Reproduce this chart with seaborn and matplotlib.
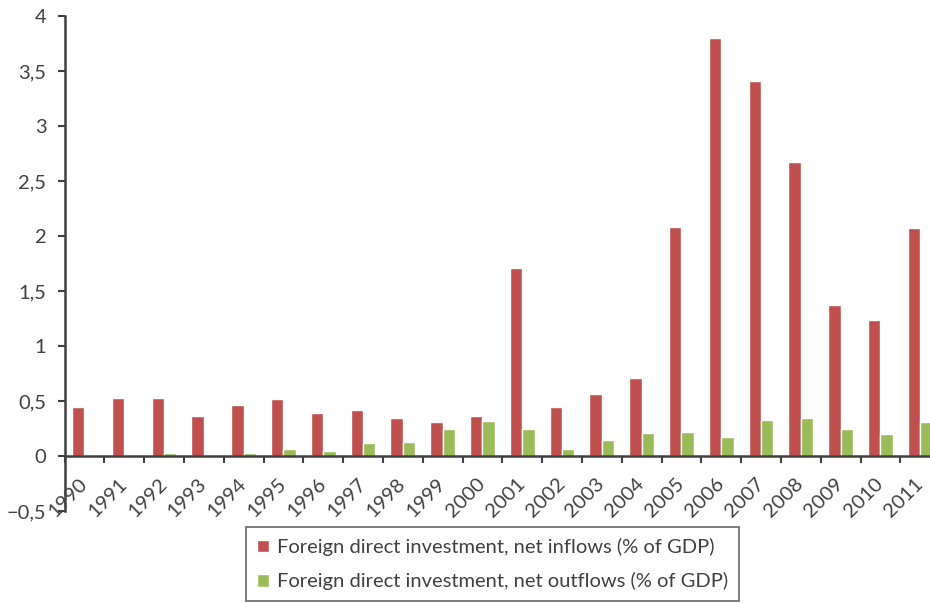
import numpy as np
import pandas as pd
import matplotlib
matplotlib.use("Agg")
import matplotlib.pyplot as plt
import seaborn as sns

years = [str(y) for y in range(1990, 2012)]
inflows = [0.45, 0.53, 0.53, 0.36, 0.46, 0.52, 0.39, 0.42, 0.35, 0.31, 0.36,
           1.71, 0.45, 0.56, 0.71, 2.08, 3.80, 3.41, 2.67, 1.37, 1.24, 2.07]
outflows = [0.00, 0.01, 0.03, 0.00, 0.03, 0.06, 0.05, 0.12, 0.13, 0.25, 0.32,
            0.25, 0.06, 0.15, 0.21, 0.22, 0.17, 0.33, 0.35, 0.25, 0.20, 0.31]
series_names = ["Foreign direct investment, net inflows (% of GDP)",
                "Foreign direct investment, net outflows (% of GDP)"]
ytick_vals = [-0.5, 0, 0.5, 1, 1.5, 2, 2.5, 3, 3.5, 4]
ytick_labels = ["\u22120,5", "0", "0,5", "1", "1,5", "2", "2,5", "3", "3,5", "4"]
colors = ["#C0504D", "#9BBB59"]

df = pd.DataFrame({
    "year": years * 2,
    "value": inflows + outflows,
    "series": [series_names[0]] * len(years) + [series_names[1]] * len(years),
})

sns.set_style("white")
plt.rcParams["font.family"] = ["Lato", "DejaVu Sans"]
text_color = "#404040"

fig = plt.figure(figsize=(9.3, 6.03), dpi=100)
ax = fig.add_axes([64.5 / 930, 1 - 511 / 603, 875.6 / 930, 495 / 603])

sns.barplot(data=df, x="year", y="value", hue="series", palette=colors,
            width=0.62, saturation=1, ax=ax, gap=0)

handles, labels = ax.get_legend_handles_labels()
if ax.get_legend() is not None:
    ax.get_legend().remove()

ax.set_xlim(-0.5, len(years) - 0.5)
ax.set_ylim(-0.5, 4)
ax.set_xlabel("")
ax.set_ylabel("")

for s in ["top", "right"]:
    ax.spines[s].set_visible(False)
ax.spines["bottom"].set_position(("data", 0))
for s in ["left", "bottom"]:
    ax.spines[s].set_color(text_color)
    ax.spines[s].set_linewidth(1.8)

ax.set_yticks(ytick_vals)
ax.set_yticklabels(ytick_labels)
ax.tick_params(axis="y", direction="out", length=5, width=1.5, color=text_color,
               labelsize=14.5, labelcolor=text_color, pad=8, left=True)

ax.set_xticks(range(len(years)))
ax.set_xticklabels(years, rotation=45, ha="right", va="center", rotation_mode="anchor")
ax.set_xticks(np.arange(-0.5, len(years)), minor=True)
ax.tick_params(axis="x", which="major", length=0, labelsize=14.5,
               labelcolor=text_color, pad=18)
ax.tick_params(axis="x", which="minor", direction="out", length=5, width=1.5,
               color=text_color, bottom=True)

leg = fig.legend(handles, labels, loc="upper left",
                 bbox_to_anchor=(246 / 930, 1 - 527 / 603),
                 bbox_transform=fig.transFigure, frameon=True, fancybox=False,
                 edgecolor=text_color, fontsize=14.5, handlelength=0.6,
                 handleheight=0.6, handletextpad=0.4, labelspacing=0.8,
                 borderpad=0.55, borderaxespad=0)
leg.get_frame().set_linewidth(1.2)
for t in leg.get_texts():
    t.set_color(text_color)

fig.savefig("out.png", dpi=100)
